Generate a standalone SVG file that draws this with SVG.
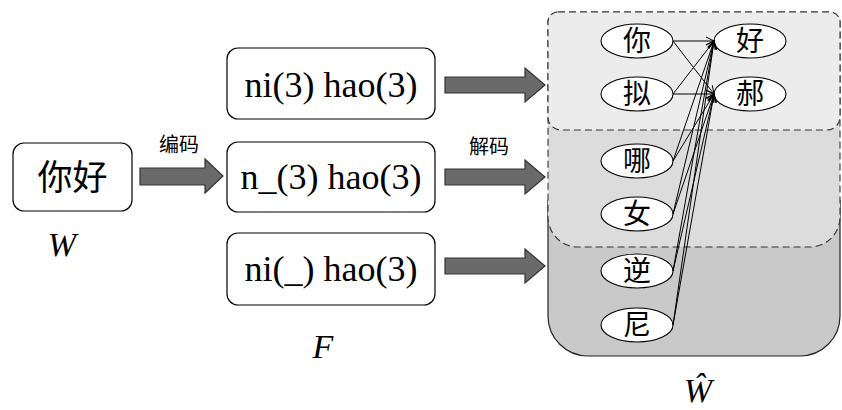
<svg xmlns="http://www.w3.org/2000/svg" width="842" height="410" viewBox="0 0 842 410">
<style>
.box{fill:#fff;stroke:#000;stroke-width:1.2}
.big{font-family:'Liberation Serif','Times New Roman',serif;font-size:36px;text-anchor:middle;fill:#000}
.cjk{font-family:'Noto Sans CJK SC','Noto Sans',sans-serif;text-anchor:middle;fill:#000}
.var{font-family:'Liberation Serif','Times New Roman',serif;font-style:italic;font-size:34px;text-anchor:middle;fill:#000}
.barrow{fill:#6a6a6a;stroke:#333;stroke-width:1.2}
.node ellipse{fill:#fff;stroke:#000;stroke-width:1.1}
.node text{font-family:'Noto Sans CJK SC','Noto Sans',sans-serif;font-size:28px;text-anchor:middle;fill:#000}
.dash{stroke:#333;stroke-width:1.1;stroke-dasharray:7,4}
.edge{stroke:#000;stroke-width:1;fill:none;marker-end:url(#arr)}
</style>
<defs>
<marker id="arr" markerUnits="userSpaceOnUse" markerWidth="10" markerHeight="10" refX="9" refY="5" orient="auto">
<path d="M1,1 L9,5 L1,9" fill="none" stroke="#000" stroke-width="1"/>
</marker>
</defs>
<rect width="842" height="410" fill="#fff"/>

<g id="container">
<path d="M556,12 H830 A10,10 0 0 1 840,22 V316 A40,40 0 0 1 800,356 H588 A40,40 0 0 1 548,316 V22 A10,10 0 0 1 556,12 Z" fill="#c9c9c9"/>
<path d="M548,200 V316 A40,40 0 0 0 588,356 H800 A40,40 0 0 0 840,316 V200" fill="none" stroke="#222" stroke-width="1.2"/>
<path class="dash" d="M558,12 H830 A10,10 0 0 1 840,22 V217 A30,30 0 0 1 810,247 H578 A30,30 0 0 1 548,217 V22 A10,10 0 0 1 558,12 Z" fill="#dcdcdc"/>
<path class="dash" d="M558,12 H830 A10,10 0 0 1 840,22 V117 A13,13 0 0 1 827,130 H561 A13,13 0 0 1 548,117 V22 A10,10 0 0 1 558,12 Z" fill="#ececec"/>
</g>

<g id="n-nihao">
<rect class="box" x="13" y="143" width="119" height="68" rx="11"/>
<text class="cjk" x="72.5" y="190" font-size="35">你好</text>
</g>
<text class="var" font-family="Liberation Serif, serif" x="62" y="256">W</text>
<text class="cjk" x="179" y="152" font-size="20">编码</text>
<text class="cjk" x="489" y="154" font-size="20">解码</text>

<g id="f1">
<rect class="box" x="227" y="48" width="208" height="71" rx="11"/>
<text class="big" font-family="Liberation Serif, serif" x="331" y="97">ni(3) hao(3)</text>
</g>
<g id="f2">
<rect class="box" x="227" y="142" width="208" height="70" rx="11"/>
<text class="big" font-family="Liberation Serif, serif" x="331" y="189">n_(3) hao(3)</text>
</g>
<text class="var" font-family="Liberation Serif, serif" x="323" y="358">F</text>
<g id="f3">
<rect class="box" x="227" y="233" width="208" height="72" rx="11"/>
<text class="big" font-family="Liberation Serif, serif" x="331" y="281">ni(_) hao(3)</text>
</g>
<text class="var" font-family="Liberation Serif, serif" x="698" y="402" font-size="31">Ŵ</text>

<g id="n-ni" class="node"><ellipse cx="637" cy="41" rx="36" ry="17"/><text x="637" y="51">你</text></g>
<g id="n-ni2" class="node"><ellipse cx="637" cy="94" rx="36" ry="17"/><text x="637" y="104">拟</text></g>
<g id="n-na" class="node"><ellipse cx="637" cy="161" rx="36" ry="17"/><text x="637" y="171">哪</text></g>
<g id="n-nv" class="node"><ellipse cx="637" cy="214" rx="36" ry="17"/><text x="637" y="224">女</text></g>
<g id="n-ni3" class="node"><ellipse cx="637" cy="271" rx="36" ry="17"/><text x="637" y="281">逆</text></g>
<g id="n-ni4" class="node"><ellipse cx="637" cy="325" rx="36" ry="17"/><text x="637" y="335">尼</text></g>
<g id="n-hao" class="node"><ellipse cx="750" cy="41" rx="36" ry="17"/><text x="750" y="51">好</text></g>
<g id="n-hao2" class="node"><ellipse cx="750" cy="94" rx="36" ry="17"/><text x="750" y="104">郝</text></g>

<g id="connectors">
<path class="barrow" d="M140,168 H205 V159 L223,176 L205,193 V185 H140 Z"/>
<path class="barrow" d="M445,77 H525 V68 L545,85 L525,102 V93 H445 Z"/>
<path class="barrow" d="M445,169 H525 V160 L545,177 L525,194 V185 H445 Z"/>
<path class="barrow" d="M445,258 H525 V249 L545,266 L525,283 V274 H445 Z"/>
<line class="edge" x1="673" y1="41" x2="714" y2="41"/>
<line class="edge" x1="673" y1="41" x2="714" y2="94"/>
<line class="edge" x1="673" y1="94" x2="714" y2="41"/>
<line class="edge" x1="673" y1="94" x2="714" y2="94"/>
<line class="edge" x1="673" y1="161" x2="714" y2="41"/>
<line class="edge" x1="673" y1="161" x2="714" y2="94"/>
<line class="edge" x1="673" y1="214" x2="714" y2="41"/>
<line class="edge" x1="673" y1="214" x2="714" y2="94"/>
<line class="edge" x1="673" y1="271" x2="714" y2="41"/>
<line class="edge" x1="673" y1="271" x2="714" y2="94"/>
<line class="edge" x1="673" y1="325" x2="714" y2="41"/>
<line class="edge" x1="673" y1="325" x2="714" y2="94"/>
</g>
</svg>
